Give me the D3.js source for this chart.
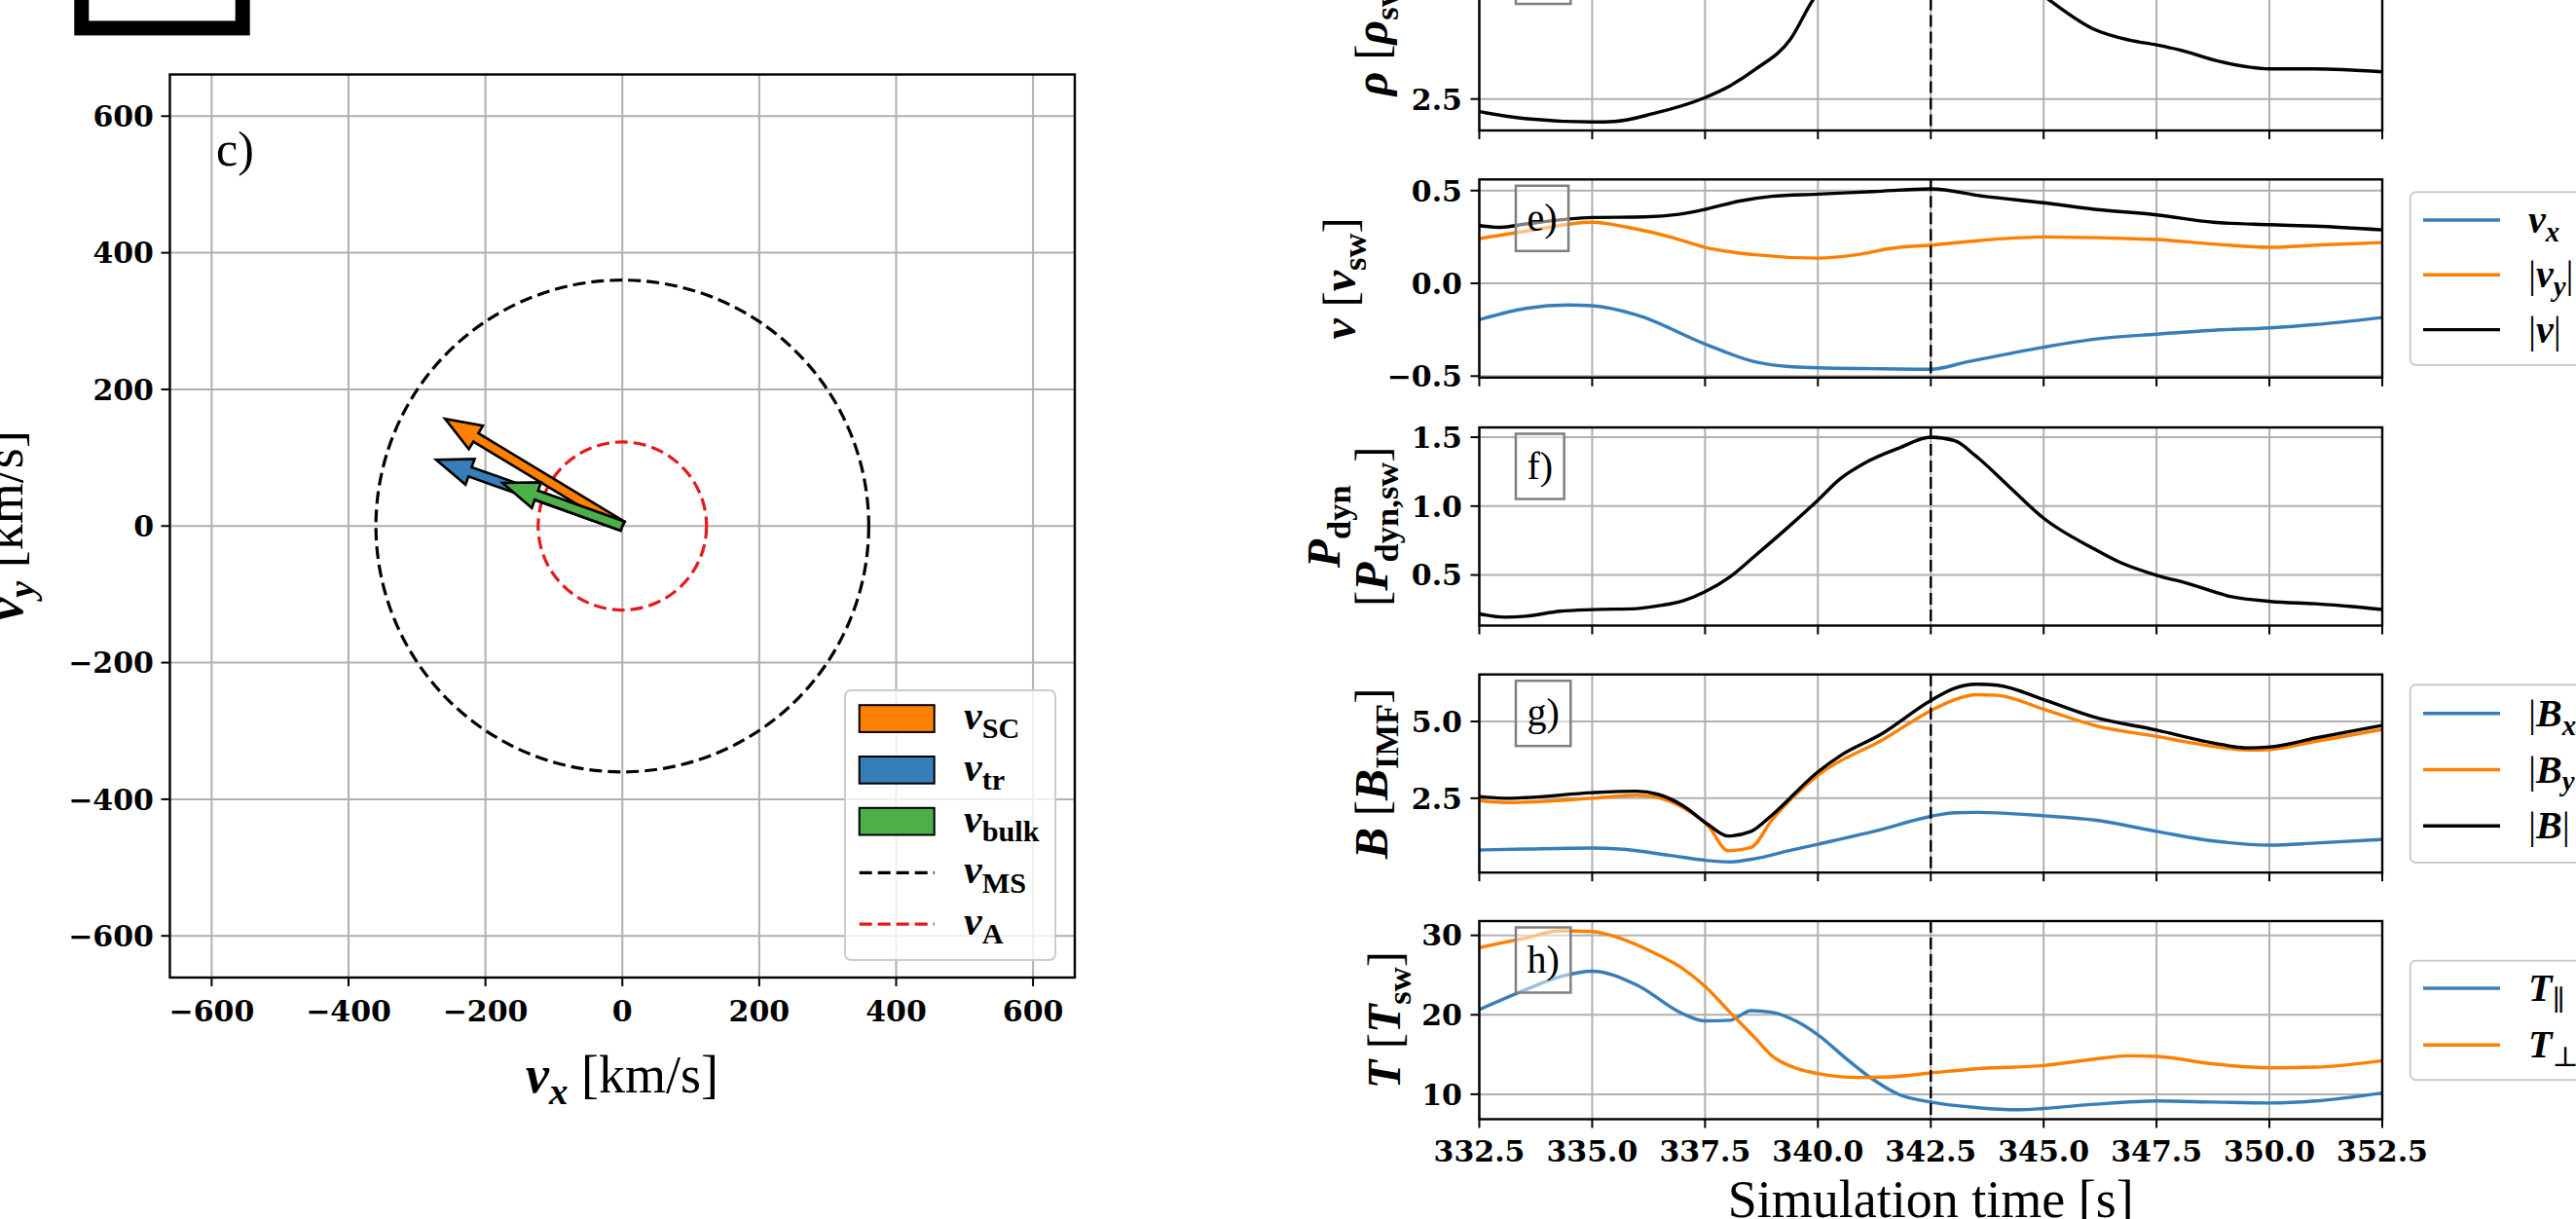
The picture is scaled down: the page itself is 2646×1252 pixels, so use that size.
<!DOCTYPE html>
<html>
<head>
<meta charset="utf-8">
<script src="https://cdn.jsdelivr.net/npm/d3@7"></script>
<style>
  body { margin: 0; background: #fff; }
  svg { display: block; }
</style>
</head>
<body>
<div id="chart"></div>
<script>
// ---------------- data ----------------
// hodogram (km/s)
var hodoTicks = [-600, -400, -200, 0, 200, 400, 600];
var vSC = [-259, 157];
var vTr = [-272, 97];
var vBulk = [-175, 63];
var rMS = 360;
var rA = 123;

// time series, simulation time [s]
var timeTicks = [332.5, 335.0, 337.5, 340.0, 342.5, 345.0, 347.5, 350.0, 352.5];
var tMark = 342.5;

var tRho = [332.5, 333.5, 335.0, 335.5, 336.35, 337.5, 338.05, 338.6, 339.4, 339.9, 341.0, 342.5, 344.0, 345.1, 346.1, 346.9, 347.5, 348.0, 348.9, 350.0, 351.0, 352.5];
var rho = [2.24, 2.1, 2.03, 2.04, 2.2, 2.53, 2.77, 3.1, 3.74, 4.55, 5.3, 5.71, 5.35, 4.55, 3.94, 3.71, 3.61, 3.51, 3.27, 3.12, 3.12, 3.06];

var tVx = [332.5, 333.53, 334.47, 335.0, 335.98, 337.5, 338.61, 339.36, 340.0, 341.24, 342.5, 343.31, 345.0, 346.13, 347.5, 348.76, 350.02, 351.02, 352.5];
var vx = [-0.196, -0.135, -0.117, -0.121, -0.17, -0.327, -0.423, -0.449, -0.455, -0.46, -0.463, -0.423, -0.344, -0.301, -0.274, -0.253, -0.24, -0.222, -0.184];
var tVy = [332.5, 333.53, 335.0, 335.79, 336.73, 337.5, 338.61, 340.0, 340.86, 341.62, 342.5, 343.68, 345.0, 347.5, 348.76, 350.02, 351.02, 352.5];
var vyAbs = [0.241, 0.281, 0.329, 0.302, 0.25, 0.194, 0.154, 0.136, 0.154, 0.189, 0.206, 0.233, 0.25, 0.236, 0.212, 0.194, 0.206, 0.22];
var tV = [332.5, 332.97, 333.53, 335.0, 336.17, 336.92, 337.5, 338.23, 338.98, 340.0, 341.24, 342.5, 343.68, 345.0, 346.13, 347.5, 348.76, 350.02, 351.02, 352.5];
var vAbs = [0.311, 0.302, 0.32, 0.355, 0.358, 0.372, 0.399, 0.442, 0.469, 0.481, 0.495, 0.509, 0.469, 0.434, 0.399, 0.369, 0.329, 0.316, 0.308, 0.288];

var tPdyn = [332.5, 333.06, 333.53, 334.29, 335.0, 335.98, 336.54, 337.01, 337.5, 338.05, 338.61, 339.36, 340.0, 340.49, 341.05, 341.8, 342.5, 343.03, 343.5, 344.25, 345.0, 346.13, 346.69, 347.5, 348.2, 349.14, 350.02, 351.02, 351.77, 352.5];
var pdyn = [0.218, 0.194, 0.201, 0.237, 0.249, 0.256, 0.28, 0.313, 0.379, 0.486, 0.64, 0.853, 1.043, 1.197, 1.315, 1.422, 1.5, 1.474, 1.363, 1.137, 0.912, 0.687, 0.592, 0.498, 0.438, 0.344, 0.308, 0.291, 0.273, 0.249];

var tBx = [332.5, 333.53, 335.0, 335.6, 336.73, 337.5, 338.05, 338.61, 339.36, 340.0, 341.24, 342.5, 343.03, 343.5, 345.0, 346.13, 347.5, 348.76, 350.02, 351.02, 352.5];
var bxAbs = [0.816, 0.847, 0.879, 0.847, 0.638, 0.481, 0.429, 0.534, 0.795, 1.004, 1.42, 1.91, 2.03, 2.04, 1.93, 1.79, 1.42, 1.11, 0.973, 1.04, 1.16];
var tBy = [332.5, 333.16, 335.0, 335.98, 336.45, 337.01, 337.58, 338.01, 338.52, 338.98, 340.0, 341.43, 342.5, 343.03, 343.5, 343.97, 345.0, 346.13, 347.5, 348.76, 349.51, 350.02, 351.02, 352.5];
var byAbs = [2.42, 2.36, 2.5, 2.6, 2.52, 2.19, 1.58, 0.79, 0.9, 1.79, 3.25, 4.4, 5.35, 5.71, 5.87, 5.85, 5.4, 4.87, 4.51, 4.19, 4.07, 4.09, 4.35, 4.74];
var tB = [332.5, 333.16, 333.53, 335.0, 335.98, 336.45, 337.01, 337.58, 338.01, 338.52, 338.98, 340.0, 340.49, 341.43, 342.5, 343.03, 343.5, 343.97, 345.0, 346.13, 347.5, 348.76, 349.51, 350.02, 351.02, 351.77, 352.5];
var bAbs = [2.55, 2.5, 2.52, 2.68, 2.73, 2.63, 2.26, 1.63, 1.27, 1.42, 1.95, 3.36, 3.88, 4.61, 5.68, 6.08, 6.21, 6.18, 5.71, 5.14, 4.72, 4.3, 4.14, 4.17, 4.46, 4.67, 4.87];

var tTpar = [332.5, 333.53, 334.29, 335.0, 335.98, 337.01, 337.5, 338.05, 338.52, 338.98, 339.55, 340.0, 340.68, 341.24, 341.8, 342.5, 343.5, 344.4, 345.0, 346.13, 347.5, 348.76, 350.02, 351.02, 352.5];
var tPar = [20.65, 23.17, 24.8, 25.49, 23.78, 20.12, 19.23, 19.31, 20.53, 20.33, 19.11, 17.48, 14.23, 11.79, 9.96, 9.02, 8.33, 8.05, 8.21, 8.74, 9.15, 9.02, 8.9, 9.15, 10.16];
var tTperp = [332.5, 333.53, 334.29, 335.0, 335.6, 336.35, 337.01, 337.5, 338.05, 338.61, 338.98, 339.55, 340.0, 340.86, 341.62, 342.5, 343.5, 345.0, 346.13, 346.88, 347.5, 348.76, 350.02, 351.02, 352.5];
var tPerp = [28.46, 29.67, 30.57, 30.49, 29.67, 27.85, 25.81, 23.58, 20.33, 17.07, 14.84, 13.21, 12.6, 12.11, 12.2, 12.68, 13.21, 13.62, 14.43, 14.84, 14.76, 13.82, 13.33, 13.41, 14.23];

// ---------------- style ----------------
var BLUE = "#377eb8", ORANGE = "#ff7f00", GREEN = "#4daf4a", RED = "#e41a1c";
var GRID = "#b0b0b0";
var SERIF = "'Liberation Serif', 'DejaVu Serif', serif";
var TICKFONT = "'DejaVu Serif', serif";
var LW = 3.4;

var W = 2646, H = 1252;
var svg = d3.select("#chart").append("svg")
  .attr("width", W).attr("height", H)
  .style("background", "#fff");

// write a label made of pieces: [text, "bi"|"b"|"", isSubscript]
function mathText(sel, fs, parts) {
  var cur = 0;
  parts.forEach(function(p) {
    var target = p[2] ? fs * 0.22 : 0;
    var t = sel.append("tspan").text(p[0]).attr("dy", target - cur);
    cur = target;
    if (p[2]) t.attr("font-size", fs * 0.72);
    if (p[1] == "bi" || p[1] == "b") t.attr("font-weight", "bold");
    if (p[1] == "bi" || p[1] == "i") t.attr("font-style", "italic");
  });
  return sel;
}

// piece of something above the figure (cut off at the top)
svg.append("rect")
  .attr("x", 83.8).attr("y", -100).attr("width", 165.4).attr("height", 128.9)
  .attr("fill", "none").attr("stroke", "#000").attr("stroke-width", 15);

// ======================= left panel c) =======================
var lx = d3.scaleLinear().domain([-661, 661]).range([174.5, 1104]);
var ly = d3.scaleLinear().domain([-661, 661]).range([1004, 76.5]);
var left = svg.append("g");

left.append("g").selectAll("line").data(hodoTicks).enter().append("line")
  .attr("x1", function(d) { return lx(d); }).attr("x2", function(d) { return lx(d); })
  .attr("y1", ly.range()[1]).attr("y2", ly.range()[0])
  .attr("stroke", GRID).attr("stroke-width", 2);
left.append("g").selectAll("line").data(hodoTicks).enter().append("line")
  .attr("y1", function(d) { return ly(d); }).attr("y2", function(d) { return ly(d); })
  .attr("x1", lx.range()[0]).attr("x2", lx.range()[1])
  .attr("stroke", GRID).attr("stroke-width", 2);

// speed circles
[[rMS, "#000"], [rA, RED]].forEach(function(c) {
  left.append("ellipse")
    .attr("cx", lx(0)).attr("cy", ly(0))
    .attr("rx", lx(c[0]) - lx(0)).attr("ry", ly(0) - ly(c[0]))
    .attr("fill", "none").attr("stroke", c[1]).attr("stroke-width", 3.2)
    .attr("stroke-dasharray", "13,6");
});

// velocity arrows
function drawArrow(v, color) {
  var x0 = lx(0), y0 = ly(0), x1 = lx(v[0]), y1 = ly(v[1]);
  var len = Math.hypot(x1 - x0, y1 - y0);
  var ux = (x1 - x0) / len, uy = (y1 - y0) / len;
  var nx = -uy, ny = ux;
  var sw = 5, hw = 14, hl = 37, b = len - hl;
  var pts = [[0, -sw], [b, -sw], [b, -hw], [len, 0], [b, hw], [b, sw], [0, sw]].map(function(p) {
    return [x0 + ux * p[0] + nx * p[1], y0 + uy * p[0] + ny * p[1]];
  });
  left.append("polygon")
    .attr("points", pts.map(function(p) { return p.join(","); }).join(" "))
    .attr("fill", color).attr("stroke", "#000").attr("stroke-width", 2.6)
    .attr("stroke-linejoin", "miter");
}
drawArrow(vSC, ORANGE);
drawArrow(vTr, BLUE);
drawArrow(vBulk, GREEN);

// frame + ticks
left.append("rect")
  .attr("x", lx.range()[0]).attr("y", ly.range()[1])
  .attr("width", lx.range()[1] - lx.range()[0]).attr("height", ly.range()[0] - ly.range()[1])
  .attr("fill", "none").attr("stroke", "#000").attr("stroke-width", 2.4);

var fmtInt = d3.format("d");
hodoTicks.forEach(function(d) {
  left.append("line").attr("x1", lx(d)).attr("x2", lx(d))
    .attr("y1", ly.range()[0]).attr("y2", ly.range()[0] + 9)
    .attr("stroke", "#000").attr("stroke-width", 2);
  left.append("text").attr("x", lx(d)).attr("y", ly.range()[0] + 45)
    .attr("text-anchor", "middle").attr("font-family", TICKFONT)
    .attr("font-weight", "bold").attr("font-size", 30).text(fmtInt(d));
  left.append("line").attr("y1", ly(d)).attr("y2", ly(d))
    .attr("x1", lx.range()[0] - 9).attr("x2", lx.range()[0])
    .attr("stroke", "#000").attr("stroke-width", 2);
  left.append("text").attr("x", 158).attr("y", ly(d)).attr("dy", "0.36em")
    .attr("text-anchor", "end").attr("font-family", TICKFONT)
    .attr("font-weight", "bold").attr("font-size", 30).text(fmtInt(d));
});

left.append("text").attr("x", 222).attr("y", 170)
  .attr("font-family", SERIF).attr("font-size", 50).text("c)");

mathText(left.append("text").attr("x", 639).attr("y", 1122)
  .attr("text-anchor", "middle").attr("font-family", SERIF).attr("font-size", 54), 54,
  [["v", "bi"], ["x", "bi", 1], [" [km/s]", ""]]);
mathText(left.append("text").attr("transform", "translate(23,540) rotate(-90)")
  .attr("text-anchor", "middle").attr("font-family", SERIF).attr("font-size", 54), 54,
  [["v", "bi"], ["y", "bi", 1], [" [km/s]", ""]]);

// legend
var lg = left.append("g");
lg.append("rect").attr("x", 868).attr("y", 709).attr("width", 216).attr("height", 277)
  .attr("rx", 6).attr("fill", "#fff").attr("fill-opacity", 0.8)
  .attr("stroke", "#cccccc").attr("stroke-width", 2);
var hodoLegend = [
  { kind: "patch", color: ORANGE, sub: "SC" },
  { kind: "patch", color: BLUE, sub: "tr" },
  { kind: "patch", color: GREEN, sub: "bulk" },
  { kind: "dash", color: "#000", sub: "MS" },
  { kind: "dash", color: RED, sub: "A" }
];
hodoLegend.forEach(function(e, i) {
  var cy = 738 + i * 52.8;
  if (e.kind == "patch") {
    lg.append("rect").attr("x", 882.7).attr("y", cy - 13.8).attr("width", 77).attr("height", 27.7)
      .attr("fill", e.color).attr("stroke", "#000").attr("stroke-width", 2);
  } else {
    lg.append("line").attr("x1", 882.7).attr("x2", 959.7).attr("y1", cy).attr("y2", cy)
      .attr("stroke", e.color).attr("stroke-width", 3.2).attr("stroke-dasharray", "13,6");
  }
  mathText(lg.append("text").attr("x", 990).attr("y", cy + 11)
    .attr("font-family", SERIF).attr("font-size", 42), 42,
    [["v", "bi"], [e.sub, "b", 1]]);
});

// ======================= right panels d) - h) =======================
var tx = d3.scaleLinear().domain([332.5, 352.5]).range([1519.5, 2447]);
var PH = 203.5;
var fmt1 = d3.format(".1f");

var panels = [
  { tag: "d)", top: -69.5, dom: [1.854, 5.924], ticks: [2.5, 5.0], fmt: fmt1, labX: [1425],
    label: [[["\u03c1", "bi"], [" [", ""], ["\u03c1", "bi"], ["sw", "b", 1], ["]", ""]]],
    series: [[tRho, rho, "#000"]] },
  { tag: "e)", top: 184.3, dom: [-0.508, 0.56], ticks: [-0.5, 0, 0.5], fmt: fmt1, labX: [1392],
    label: [[["v", "bi"], [" [", ""], ["v", "bi"], ["sw", "b", 1], ["]", ""]]],
    series: [[tVx, vx, BLUE], [tVy, vyAbs, ORANGE], [tV, vAbs, "#000"]],
    legend: { y0: 226, step: 56.3, box: [197.3, 177.7], items: [
      [BLUE, [["v", "bi"], ["x", "bi", 1]]],
      [ORANGE, [["|", ""], ["v", "bi"], ["y", "bi", 1], ["|", ""]]],
      ["#000", [["|", ""], ["v", "bi"], ["|", ""]]]] } },
  { tag: "f)", top: 439, dom: [0.133, 1.571], ticks: [0.5, 1.0, 1.5], fmt: fmt1, labX: [1376, 1425],
    label: [[["P", "bi"], ["dyn", "b", 1]], [["[", ""], ["P", "bi"], ["dyn,sw", "b", 1], ["]", ""]]],
    series: [[tPdyn, pdyn, "#000"]] },
  { tag: "g)", top: 692.7, dom: [0.08, 6.53], ticks: [2.5, 5.0], fmt: fmt1, labX: [1425],
    label: [[["B", "bi"], [" [", ""], ["B", "bi"], ["IMF", "b", 1], ["]", ""]]],
    series: [[tBx, bxAbs, BLUE], [tBy, byAbs, ORANGE], [tB, bAbs, "#000"]],
    legend: { y0: 732.7, step: 57.8, box: [703.3, 182.7], items: [
      [BLUE, [["|", ""], ["B", "bi"], ["x", "bi", 1], ["|", ""]]],
      [ORANGE, [["|", ""], ["B", "bi"], ["y", "bi", 1], ["|", ""]]],
      ["#000", [["|", ""], ["B", "bi"], ["|", ""]]]] } },
  { tag: "h)", top: 946, dom: [6.86, 31.8], ticks: [10, 20, 30], fmt: d3.format("d"), labX: [1438],
    label: [[["T", "bi"], [" [", ""], ["T", "bi"], ["sw", "b", 1], ["]", ""]]],
    series: [[tTpar, tPar, BLUE], [tTperp, tPerp, ORANGE]], xLabels: true,
    legend: { y0: 1015, step: 58.3, box: [986.7, 122.6], items: [
      [BLUE, [["T", "bi"], ["\u2225", "", 1]]],
      [ORANGE, [["T", "bi"], ["\u22a5", "", 1]]]] } }
];

var defs = svg.append("defs");

panels.forEach(function(p, pi) {
  var g = svg.append("g");
  var y = d3.scaleLinear().domain(p.dom).range([p.top + PH, p.top]);
  var x0 = tx.range()[0], x1 = tx.range()[1];

  defs.append("clipPath").attr("id", "clip" + pi).append("rect")
    .attr("x", x0).attr("y", p.top).attr("width", x1 - x0).attr("height", PH);

  // grid
  g.append("g").selectAll("line").data(timeTicks).enter().append("line")
    .attr("x1", function(d) { return tx(d); }).attr("x2", function(d) { return tx(d); })
    .attr("y1", p.top).attr("y2", p.top + PH)
    .attr("stroke", GRID).attr("stroke-width", 2);
  g.append("g").selectAll("line").data(p.ticks).enter().append("line")
    .attr("y1", function(d) { return y(d); }).attr("y2", function(d) { return y(d); })
    .attr("x1", x0).attr("x2", x1)
    .attr("stroke", GRID).attr("stroke-width", 2);

  // series
  var line = d3.line()
    .x(function(d) { return tx(d[0]); })
    .y(function(d) { return y(d[1]); })
    .curve(d3.curveMonotoneX);
  var lines = g.append("g").attr("clip-path", "url(#clip" + pi + ")");
  p.series.forEach(function(s) {
    lines.append("path")
      .datum(d3.zip(s[0], s[1]))
      .attr("d", line)
      .attr("fill", "none").attr("stroke", s[2]).attr("stroke-width", LW)
      .attr("stroke-linejoin", "round");
  });

  // event marker
  g.append("line").attr("x1", tx(tMark)).attr("x2", tx(tMark))
    .attr("y1", p.top).attr("y2", p.top + PH)
    .attr("stroke", "#000").attr("stroke-width", 2.4).attr("stroke-dasharray", "12,5");

  // frame
  g.append("rect").attr("x", x0).attr("y", p.top)
    .attr("width", x1 - x0).attr("height", PH)
    .attr("fill", "none").attr("stroke", "#000").attr("stroke-width", 2.4);

  // panel tag in a box
  var tagText = g.append("text").attr("font-family", SERIF).attr("font-size", 40)
    .attr("x", 1557 + 11.5).attr("y", p.top + 6.5 + 46).text(p.tag);
  var tw = tagText.node().getComputedTextLength();
  g.insert("rect", function() { return tagText.node(); })
    .attr("x", 1557).attr("y", p.top + 6.5).attr("width", tw + 23).attr("height", 67)
    .attr("fill", "#fff").attr("fill-opacity", 0.5)
    .attr("stroke", "#808080").attr("stroke-width", 2.5);

  // x ticks
  timeTicks.forEach(function(d) {
    g.append("line").attr("x1", tx(d)).attr("x2", tx(d))
      .attr("y1", p.top + PH).attr("y2", p.top + PH + 9)
      .attr("stroke", "#000").attr("stroke-width", 2);
    if (p.xLabels) {
      g.append("text").attr("x", tx(d)).attr("y", p.top + PH + 43)
        .attr("text-anchor", "middle").attr("font-family", TICKFONT)
        .attr("font-weight", "bold").attr("font-size", 30).text(fmt1(d));
    }
  });

  // y ticks
  p.ticks.forEach(function(d) {
    g.append("line").attr("y1", y(d)).attr("y2", y(d))
      .attr("x1", x0 - 9).attr("x2", x0)
      .attr("stroke", "#000").attr("stroke-width", 2);
    g.append("text").attr("x", 1502).attr("y", y(d)).attr("dy", "0.36em")
      .attr("text-anchor", "end").attr("font-family", TICKFONT)
      .attr("font-weight", "bold").attr("font-size", 30).text(p.fmt(d));
  });

  // y label (one or two lines)
  var cy = p.top + PH / 2;
  p.label.forEach(function(parts, li) {
    mathText(g.append("text")
      .attr("transform", "translate(" + p.labX[li] + "," + cy + ") rotate(-90)")
      .attr("text-anchor", "middle").attr("font-family", SERIF).attr("font-size", 48), 48, parts);
  });

  // legend at the right (cut by the page edge)
  if (p.legend) {
    var lgd = g.append("g");
    lgd.append("rect").attr("x", 2475.7).attr("y", p.legend.box[0])
      .attr("width", 300).attr("height", p.legend.box[1]).attr("rx", 6)
      .attr("fill", "#fff").attr("fill-opacity", 0.8)
      .attr("stroke", "#cccccc").attr("stroke-width", 2);
    p.legend.items.forEach(function(it, i) {
      var ly2 = p.legend.y0 + i * p.legend.step;
      lgd.append("line").attr("x1", 2489).attr("x2", 2568).attr("y1", ly2).attr("y2", ly2)
        .attr("stroke", it[0]).attr("stroke-width", LW);
      mathText(lgd.append("text").attr("x", 2597).attr("y", ly2 + 13)
        .attr("font-family", SERIF).attr("font-size", 40), 40, it[1]);
    });
  }
});

svg.append("text").attr("x", tx(342.5)).attr("y", 1250)
  .attr("text-anchor", "middle").attr("font-family", SERIF).attr("font-size", 54)
  .text("Simulation time [s]");
</script>
</body>
</html>
